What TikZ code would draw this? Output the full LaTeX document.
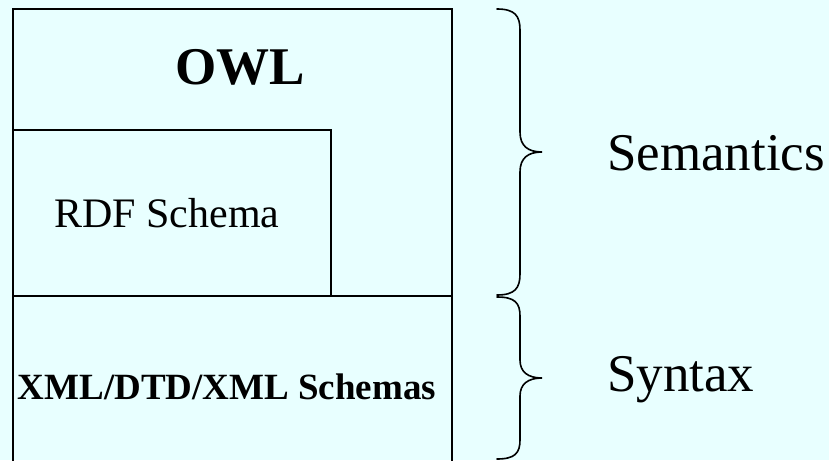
\documentclass[tikz,border=0pt]{standalone}
\usepackage{fontspec}
\setmainfont{Liberation Serif}
\definecolor{bgcyan}{RGB}{232,255,255}
\tikzset{
  box/.style={draw=black, line width=1.6pt},
  bracestyle/.style={draw=black, line width=1.6pt, line cap=round},
  lbl/.style={inner sep=0pt, anchor=center, text=black}
}
\begin{document}
\begin{tikzpicture}[x=1pt, y=-1pt]
\fill[bgcyan] (0,0) rectangle (829,460);
\useasboundingbox (0,0) rectangle (829,460);
\clip (0,0) rectangle (829,460);
% boxes
\draw[box] (13,9) rectangle (452,470);
\draw[box] (13,130) rectangle (331,296);
\draw[box] (13,296) -- (452,296);
% labels
\node[lbl, font=\fontsize{53}{60}\selectfont\bfseries] (owl) at (240,67) {OWL};
\node[lbl, font=\fontsize{42}{50}\selectfont] (rdf) at (167,213) {RDF Schema};
\node[lbl, font=\fontsize{37}{44}\selectfont\bfseries] (xml) at (227,387) {XML/DTD/XML Schemas};
\node[lbl, font=\fontsize{53}{60}\selectfont, anchor=west] (sem) at (607,153) {Semantics};
\node[lbl, font=\fontsize{53}{60}\selectfont, anchor=west] (syn) at (607,380) {Syntax};
% braces
\draw[bracestyle] (497,9) .. controls (515,9) and (520,16) .. (520,30)
  -- (520,132) .. controls (520,146) and (528,152) .. (542,152)
  .. controls (528,152) and (520,158) .. (520,172)
  -- (520,274) .. controls (520,288) and (515,295) .. (497,295);
\draw[bracestyle] (497,297) .. controls (515,297) and (520,303) .. (520,316)
  -- (520,360) .. controls (520,372) and (528,378) .. (542,378)
  .. controls (528,378) and (520,384) .. (520,396)
  -- (520,440) .. controls (520,453) and (515,459) .. (497,459);
\end{tikzpicture}
\end{document}
